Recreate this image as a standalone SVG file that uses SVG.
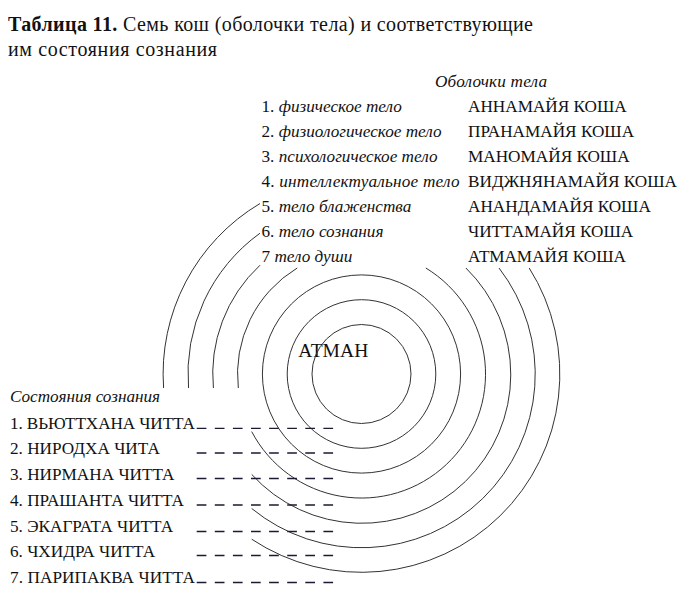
<svg xmlns="http://www.w3.org/2000/svg" width="697" height="599" viewBox="0 0 697 599">
<style>
.arc{fill:none;stroke:#333;stroke-width:1}
.dash{fill:none;stroke:#1a1a33;stroke-width:1.3;stroke-dasharray:9.7 8.4}
</style>
<rect width="697" height="599" fill="#fff"/>
<g font-family="'Liberation Serif', serif" font-size="17.2" fill="#111">
<g id="title" font-size="20">
<text x="8" y="31" textLength="525"><tspan font-weight="bold">Таблица 11.</tspan> Семь кош (оболочки тела) и соответствующие</text>
<text x="8" y="56" textLength="209">им состояния сознания</text>
</g>
<g id="atman"><text x="298.3" y="357" font-size="19.5" textLength="70">АТМАН</text></g>
<g id="koshas">
<text font-style="italic" x="435" y="86.5" textLength="112">Оболочки тела</text>
<text x="261.5" y="111.5">1. <tspan font-style="italic">физическое тело</tspan></text>
<text x="261.5" y="136.5">2. <tspan font-style="italic">физиологическое тело</tspan></text>
<text x="261.5" y="161.5">3. <tspan font-style="italic">психологическое тело</tspan></text>
<text x="261.5" y="186.5" textLength="198">4. <tspan font-style="italic">интеллектуальное тело</tspan></text>
<text x="261.5" y="211.5">5. <tspan font-style="italic">тело блаженства</tspan></text>
<text x="261.5" y="236.5">6. <tspan font-style="italic">тело сознания</tspan></text>
<text x="261.5" y="261.5">7 <tspan font-style="italic">тело души</tspan></text>
<text x="468" y="111.5">АННАМАЙЯ КОША</text>
<text x="468" y="136.5">ПРАНАМАЙЯ КОША</text>
<text x="468" y="161.5">МАНОМАЙЯ КОША</text>
<text x="468" y="186.5" textLength="209">ВИДЖНЯНАМАЙЯ КОША</text>
<text x="468" y="211.5">АНАНДАМАЙЯ КОША</text>
<text x="468" y="236.5">ЧИТТАМАЙЯ КОША</text>
<text x="468" y="261.5">АТМАМАЙЯ КОША</text>
</g>
<g id="states">
<text font-style="italic" x="10" y="401.5" textLength="150">Состояния сознания</text>
<text x="10" y="428.5" textLength="185">1. ВЬЮТТХАНА ЧИТТА</text>
<text x="10" y="454">2. НИРОДХА ЧИТА</text>
<text x="10" y="480">3. НИРМАНА ЧИТТА</text>
<text x="10" y="506">4. ПРАШАНТА ЧИТТА</text>
<text x="10" y="531.5">5. ЭКАГРАТА ЧИТТА</text>
<text x="10" y="557">6. ЧХИДРА ЧИТТА</text>
<text x="10" y="583" textLength="185">7. ПАРИПАКВА ЧИТТА</text>
</g>
</g>
<g id="connectors">
<circle class="arc" cx="361.5" cy="374" r="49.5"/>
<circle class="arc" cx="361.5" cy="374" r="74.3"/>
<circle class="arc" cx="361.5" cy="374" r="99.1"/>
<path class="arc" d="M297.2 268 A124 124 0 0 0 238.3 388"/>
<path class="arc" d="M425.8 268 A124 124 0 1 1 251.7 431.6"/>
<path class="arc" d="M260 265.2 A148.8 148.8 0 0 0 213.4 388"/>
<path class="arc" d="M465.9 268 A148.8 148.8 0 1 1 251.7 474.4"/>
<path class="arc" d="M260 233.2 A173.6 173.6 0 0 0 188.5 388"/>
<path class="arc" d="M499 268 A173.6 173.6 0 0 1 251.7 508.5"/>
<path class="arc" d="M260 203.5 A198.4 198.4 0 0 0 163.6 388"/>
<path class="arc" d="M529.2 268 A198.4 198.4 0 0 1 251.7 539.2"/>
<path class="dash" d="M196.7 428.3H334M196.7 453H334M196.7 478.5H334M196.7 505H334M196.7 531.5H334M196.7 555.5H334M196.7 582.5H334"/>
</g>
</svg>
